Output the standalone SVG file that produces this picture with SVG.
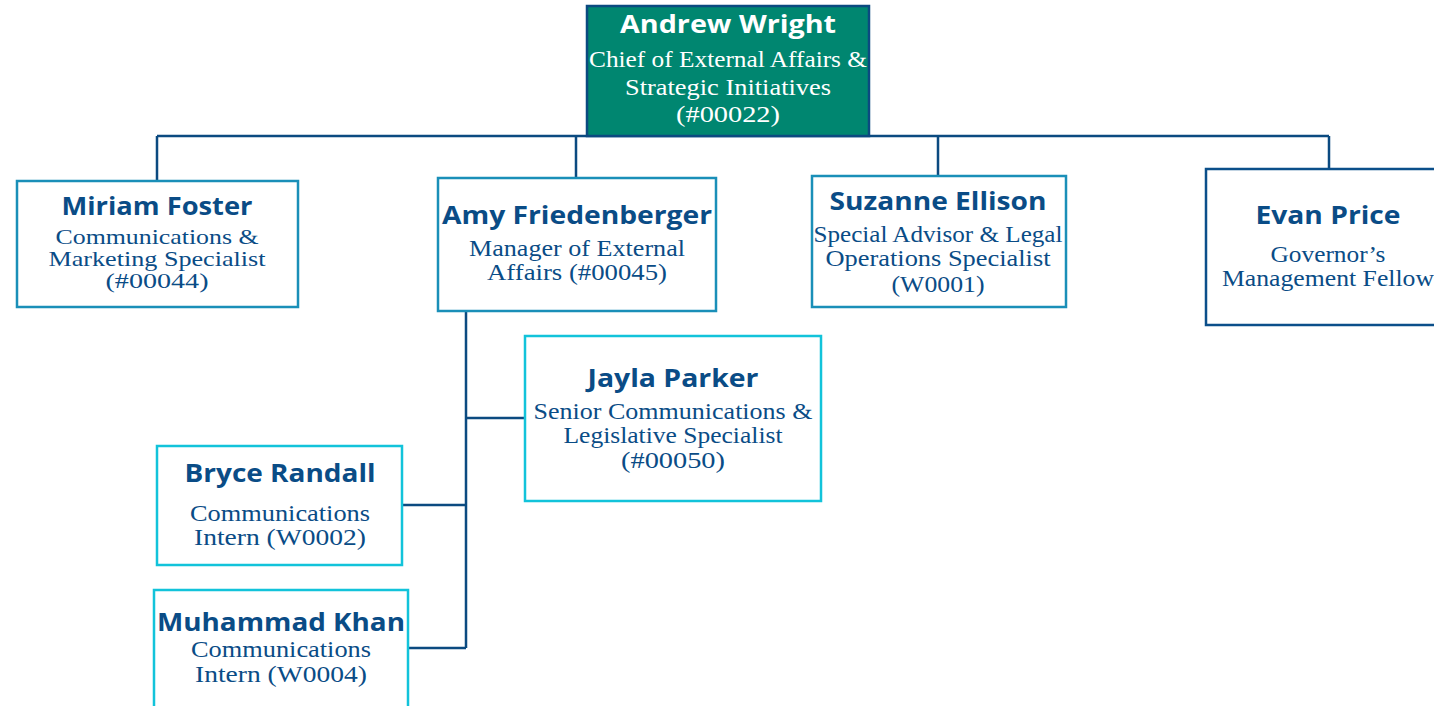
<svg xmlns="http://www.w3.org/2000/svg" width="1434" height="706" viewBox="0 0 1434 706">
<style>
.bg{fill:#ffffff}
.top{fill:#008670;stroke:#0b4a80;stroke-width:2.5}
.l1{fill:#ffffff;stroke:#1a8fb8;stroke-width:2.5}
.l1d{fill:#ffffff;stroke:#0b4f8a;stroke-width:2.5}
.l2{fill:#ffffff;stroke:#12c3da;stroke-width:2.5}
.name{font-family:"Open Sans","Liberation Sans",sans-serif;font-weight:700;font-size:25px;fill:#0a4c86;text-anchor:middle}
.title{font-family:"Liberation Serif","DejaVu Serif",serif;font-size:23px;fill:#0a4c86;text-anchor:middle}
.tight{font-size:22px}
.w{fill:#ffffff}
.conn{stroke:#0b4a80;stroke-width:2.5;fill:none}
</style>
<rect class="bg" x="0" y="0" width="1434" height="706"/>
<g id="connectors">
<path class="conn" d="M157,136 H1329 M157,136 V181 M576,136 V178 M938,136 V176 M1329,136 V169"/>
<path class="conn" d="M466,311 V648 M466,418 H525 M402,505 H466 M408,648 H466"/>
</g>
<g id="andrew">
<rect class="top" x="587" y="6" width="282" height="130"/>
<text class="name w" x="728" y="33" textLength="216" lengthAdjust="spacingAndGlyphs">Andrew Wright</text>
<text class="title w" x="728" y="67" textLength="278" lengthAdjust="spacingAndGlyphs">Chief of External Affairs &amp;</text>
<text class="title w" x="728" y="95" textLength="206" lengthAdjust="spacingAndGlyphs">Strategic Initiatives</text>
<text class="title w" x="728" y="122" textLength="104" lengthAdjust="spacingAndGlyphs">(#00022)</text>
</g>
<g id="miriam">
<rect class="l1" x="17" y="181" width="281" height="126"/>
<text class="name" x="157" y="215" textLength="191" lengthAdjust="spacingAndGlyphs">Miriam Foster</text>
<text class="title tight" x="157" y="244" textLength="203" lengthAdjust="spacingAndGlyphs">Communications &amp;</text>
<text class="title tight" x="157" y="266" textLength="217" lengthAdjust="spacingAndGlyphs">Marketing Specialist</text>
<text class="title tight" x="157" y="288" textLength="103" lengthAdjust="spacingAndGlyphs">(#00044)</text>
</g>
<g id="amy">
<rect class="l1" x="438" y="178" width="278" height="133"/>
<text class="name" x="577" y="224" textLength="270" lengthAdjust="spacingAndGlyphs">Amy Friedenberger</text>
<text class="title" x="577" y="256" textLength="216" lengthAdjust="spacingAndGlyphs">Manager of External</text>
<text class="title" x="577" y="280" textLength="180" lengthAdjust="spacingAndGlyphs">Affairs (#00045)</text>
</g>
<g id="suzanne">
<rect class="l1" x="812" y="176" width="254" height="131"/>
<text class="name" x="938" y="210" textLength="217" lengthAdjust="spacingAndGlyphs">Suzanne Ellison</text>
<text class="title" x="938" y="242" textLength="249" lengthAdjust="spacingAndGlyphs">Special Advisor &amp; Legal</text>
<text class="title" x="938" y="266" textLength="225" lengthAdjust="spacingAndGlyphs">Operations Specialist</text>
<text class="title" x="938" y="292" textLength="93" lengthAdjust="spacingAndGlyphs">(W0001)</text>
</g>
<g id="evan">
<rect class="l1d" x="1206" y="169" width="240" height="156"/>
<text class="name" x="1328" y="224" textLength="145" lengthAdjust="spacingAndGlyphs">Evan Price</text>
<text class="title" x="1328" y="262" textLength="115" lengthAdjust="spacingAndGlyphs">Governor’s</text>
<text class="title" x="1328" y="286" textLength="212" lengthAdjust="spacingAndGlyphs">Management Fellow</text>
</g>
<g id="jayla">
<rect class="l2" x="525" y="336" width="296" height="165"/>
<text class="name" x="673" y="387" textLength="171" lengthAdjust="spacingAndGlyphs">Jayla Parker</text>
<text class="title" x="673" y="419" textLength="279" lengthAdjust="spacingAndGlyphs">Senior Communications &amp;</text>
<text class="title" x="673" y="443" textLength="219" lengthAdjust="spacingAndGlyphs">Legislative Specialist</text>
<text class="title" x="673" y="468" textLength="104" lengthAdjust="spacingAndGlyphs">(#00050)</text>
</g>
<g id="bryce">
<rect class="l2" x="157" y="446" width="245" height="119"/>
<text class="name" x="280" y="482" textLength="191" lengthAdjust="spacingAndGlyphs">Bryce Randall</text>
<text class="title" x="280" y="521" textLength="180" lengthAdjust="spacingAndGlyphs">Communications</text>
<text class="title" x="280" y="545" textLength="172" lengthAdjust="spacingAndGlyphs">Intern (W0002)</text>
</g>
<g id="muhammad">
<rect class="l2" x="154" y="590" width="254" height="130"/>
<text class="name" x="281" y="631" textLength="248" lengthAdjust="spacingAndGlyphs">Muhammad Khan</text>
<text class="title" x="281" y="657" textLength="180" lengthAdjust="spacingAndGlyphs">Communications</text>
<text class="title" x="281" y="682" textLength="172" lengthAdjust="spacingAndGlyphs">Intern (W0004)</text>
</g>
</svg>
